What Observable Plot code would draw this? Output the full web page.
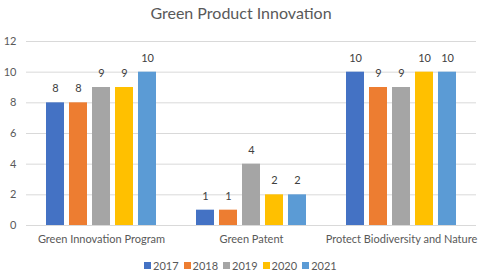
<!DOCTYPE html>
<html><head><meta charset="utf-8">
<script src="https://cdn.jsdelivr.net/npm/d3@7"></script>
<script src="https://cdn.jsdelivr.net/npm/@observablehq/plot@0.6"></script>
<style>
body{margin:0;background:#fff;font-family:Lato,"Open Sans",sans-serif;}
#wrap{position:relative;width:480px;height:277px;overflow:hidden;}
#title{position:absolute;top:3px;left:0;width:482px;text-align:center;font-size:16px;color:#595959;}
#legend{position:absolute;top:259px;left:144px;display:flex;gap:5px;font-size:11px;color:#595959;}
#legend span.item{display:flex;align-items:center;}
#legend span.sw{display:inline-block;width:7px;height:7px;margin-right:2px;}
#chart{position:absolute;top:0;left:0;}
</style></head>
<body><div id="wrap"><div id="chart"></div><div id="title">Green Product Innovation</div><div id="legend"></div></div>
<script>
const categories = ["Green Innovation Program", "Green Patent", "Protect Biodiversity and Nature"];
const years = ["2017", "2018", "2019", "2020", "2021"];
const values2017 = [8, 1, 10];
const values2018 = [8, 1, 9];
const values2019 = [9, 4, 9];
const values2020 = [9, 2, 10];
const values2021 = [10, 2, 10];
const colors = ["#4472C4", "#ED7D31", "#A5A5A5", "#FFC000", "#5B9BD5"];
const yTicks = [0, 2, 4, 6, 8, 10, 12];

const series = [values2017, values2018, values2019, values2020, values2021];
const data = [];
categories.forEach((c, i) => years.forEach((y, j) => data.push({category: c, year: y, value: series[j][i]})));

const plot = Plot.plot({
  width: 480, height: 277,
  marginTop: 41, marginBottom: 52, marginLeft: 26, marginRight: 4,
  style: {fontFamily: "Lato, 'Open Sans', sans-serif", color: "#595959", background: "transparent"},
  fx: {domain: categories, padding: 0, label: null, axis: "bottom", tickSize: 0, tickPadding: 10},
  x: {domain: years, paddingInner: 0.22, paddingOuter: 0.87, axis: null},
  y: {domain: [0, 12], ticks: yTicks, label: null, tickSize: 0, tickPadding: 10, grid: false},
  color: {domain: years, range: colors},
  facet: {data, x: "category"},
  marks: [
    Plot.ruleY(yTicks, {stroke: "#d9d9d9", strokeWidth: 1}),
    Plot.barY(data, {x: "year", y: "value", fill: "year"}),
    Plot.text(data, {x: "year", y: "value", text: d => String(d.value), dy: -14, fontSize: 11, fill: "#404040"})
  ]
});
plot.querySelectorAll("[aria-label='fx-axis tick label'] text, [aria-label='y-axis tick label'] text").forEach(t => t.setAttribute("font-size", "11"));
document.getElementById("chart").appendChild(plot);

const leg = document.getElementById("legend");
years.forEach((y, i) => {
  const it = document.createElement("span"); it.className = "item";
  const sw = document.createElement("span"); sw.className = "sw"; sw.style.background = colors[i];
  it.appendChild(sw); it.appendChild(document.createTextNode(y)); leg.appendChild(it);
});
</script></body></html>
